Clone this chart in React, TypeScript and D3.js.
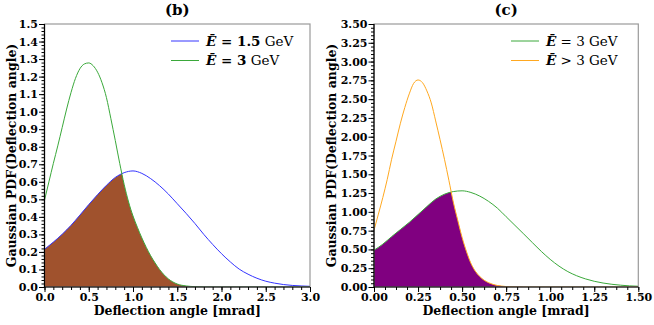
import React, { useRef, useEffect } from 'react';
import * as d3 from 'd3';

// ---- panel (b) ----
const angleB15 = [0.0, 0.1, 0.2, 0.3, 0.4, 0.5, 0.6, 0.7, 0.8, 0.9, 1.0, 1.1, 1.2, 1.3, 1.4, 1.5,
  1.6, 1.7, 1.8, 1.9, 2.0, 2.1, 2.2, 2.3, 2.4, 2.5, 2.6, 2.7, 2.8, 2.9, 3.0];
const pdfB15 = [0.215, 0.256, 0.301, 0.352, 0.41, 0.47, 0.527, 0.58, 0.625, 0.652, 0.662, 0.648,
  0.618, 0.578, 0.53, 0.475, 0.42, 0.362, 0.30, 0.243, 0.19, 0.143, 0.102, 0.073, 0.05, 0.033,
  0.022, 0.014, 0.009, 0.006, 0.004];

const angleB3 = [0.0, 0.05, 0.1, 0.15, 0.2, 0.25, 0.3, 0.35, 0.4, 0.45, 0.5, 0.55, 0.6, 0.65, 0.7,
  0.75, 0.8, 0.85, 0.9, 0.95, 1.0, 1.05, 1.1, 1.15, 1.2, 1.25, 1.3, 1.35, 1.4, 1.45, 1.5,
  1.6, 1.7, 1.8, 2.0, 3.0];
const pdfB3 = [0.495, 0.60, 0.705, 0.805, 0.91, 1.015, 1.11, 1.19, 1.245, 1.272, 1.278, 1.262,
  1.225, 1.165, 1.08, 0.96, 0.835, 0.705, 0.585, 0.485, 0.405, 0.34, 0.28, 0.226, 0.178, 0.137,
  0.1, 0.07, 0.046, 0.029, 0.017, 0.006, 0.002, 0.0005, 0, 0];

const xTicksB = [0, 0.5, 1.0, 1.5, 2.0, 2.5, 3.0];
const yTicksB = [0, 0.1, 0.2, 0.3, 0.4, 0.5, 0.6, 0.7, 0.8, 0.9, 1.0, 1.1, 1.2, 1.3, 1.4, 1.5];

// ---- panel (c) ----
const angleC3 = [0.0, 0.05, 0.1, 0.15, 0.2, 0.25, 0.3, 0.35, 0.4, 0.45, 0.5, 0.55, 0.6, 0.65, 0.7,
  0.75, 0.8, 0.85, 0.9, 0.95, 1.0, 1.05, 1.1, 1.15, 1.2, 1.25, 1.3, 1.35, 1.4, 1.45, 1.5];
const pdfC3 = [0.49, 0.57, 0.67, 0.765, 0.86, 0.964, 1.07, 1.17, 1.235, 1.27, 1.28, 1.258, 1.21,
  1.14, 1.05, 0.935, 0.82, 0.705, 0.588, 0.473, 0.368, 0.278, 0.205, 0.15, 0.108, 0.076, 0.053,
  0.036, 0.024, 0.015, 0.01];

const angleCgt3 = [0.0, 0.025, 0.05, 0.075, 0.1, 0.125, 0.15, 0.175, 0.2, 0.225, 0.25, 0.275, 0.3,
  0.325, 0.35, 0.375, 0.4, 0.425, 0.45, 0.475, 0.5, 0.525, 0.55, 0.575, 0.6, 0.625, 0.65, 0.675,
  0.7, 0.725, 0.75, 0.8, 0.85, 0.9, 1.5];
const pdfCgt3 = [0.755, 0.97, 1.19, 1.43, 1.70, 1.94, 2.18, 2.39, 2.57, 2.71, 2.755, 2.72, 2.61,
  2.45, 2.21, 1.96, 1.70, 1.42, 1.13, 0.89, 0.66, 0.47, 0.315, 0.21, 0.14, 0.09, 0.058, 0.035,
  0.02, 0.012, 0.006, 0.002, 0.0006, 0, 0];

const xTicksC = [0, 0.25, 0.5, 0.75, 1.0, 1.25, 1.5];
const yTicksC = [0, 0.25, 0.5, 0.75, 1.0, 1.25, 1.5, 1.75, 2.0, 2.25, 2.5, 2.75, 3.0, 3.25, 3.5];

const SERIF = '"DejaVu Serif", serif';

const panels = [
  {
    id: 'b', title: '(b)',
    left: 44.5, right: 310, top: 24, bottom: 287, labelX: 12,
    xMax: 3.0, yMax: 1.5, xTicks: xTicksB, yTicks: yTicksB, xMinor: 0.1, yMinor: 0.02,
    xFmt: '.1f', yFmt: '.1f', fill: '#a0522d', legendX: 171,
    curves: [
      { x: angleB15, y: pdfB15, color: '#3434ff', label: '1.5', op: '=' },
      { x: angleB3, y: pdfB3, color: '#3aa83a', label: '3', op: '=' },
    ],
  },
  {
    id: 'c', title: '(c)',
    left: 374, right: 638.3, top: 24, bottom: 287, labelX: 332,
    xMax: 1.5, yMax: 3.5, xTicks: xTicksC, yTicks: yTicksC, xMinor: 0.0625, yMinor: 0.05,
    xFmt: '.2f', yFmt: '.2f', fill: '#800080', legendX: 511,
    curves: [
      { x: angleC3, y: pdfC3, color: '#3aa83a', label: '3', op: '=' },
      { x: angleCgt3, y: pdfCgt3, color: '#ffa820', label: '3', op: '>' },
    ],
  },
];

const drawPanel = (svg, p) => {
  const x = d3.scaleLinear().domain([0, p.xMax]).range([p.left, p.right]);
  const y = d3.scaleLinear().domain([0, p.yMax]).range([p.bottom, p.top]);
  const pts = c => c.x.map((v, k) => [v, c.y[k]]);

  const line = d3.line().x(d => x(d[0])).y(d => y(d[1])).curve(d3.curveMonotoneX);
  const area = d3.area().x(d => x(d[0])).y0(y(0)).y1(d => y(d[1])).curve(d3.curveMonotoneX);

  const defs = svg.append('defs');
  defs.append('clipPath').attr('id', `under-${p.id}`)
    .append('path').attr('d', area(pts(p.curves[1])));
  defs.append('clipPath').attr('id', `plot-${p.id}`)
    .append('rect')
    .attr('x', p.left).attr('y', p.top)
    .attr('width', p.right - p.left).attr('height', p.bottom - p.top);

  const plot = svg.append('g').attr('clip-path', `url(#plot-${p.id})`);

  // region under both curves
  plot.append('path')
    .attr('d', area(pts(p.curves[0])))
    .attr('fill', p.fill)
    .attr('clip-path', `url(#under-${p.id})`);

  p.curves.forEach(c => {
    plot.append('path')
      .attr('d', line(pts(c)))
      .attr('fill', 'none')
      .attr('stroke', c.color)
      .attr('stroke-width', 1);
  });

  // frame: grey top/right, black axes
  svg.append('rect')
    .attr('x', p.left).attr('y', p.top)
    .attr('width', p.right - p.left).attr('height', p.bottom - p.top)
    .attr('fill', 'none').attr('stroke', '#9a9a9a').attr('stroke-width', 1.2);
  svg.append('path')
    .attr('d', `M${p.left},${p.top}V${p.bottom}H${p.right}`)
    .attr('fill', 'none').attr('stroke', '#000').attr('stroke-width', 1.2);

  const styleAxis = g => {
    g.select('.domain').remove();
    g.selectAll('line').attr('stroke', '#000').attr('stroke-width', 1);
    g.attr('font-family', SERIF).attr('font-size', 11).attr('font-weight', 'bold');
    g.selectAll('text').attr('fill', '#000');
  };

  const xMinorTicks = d3.range(0, p.xMax + 1e-9, p.xMinor);
  const yMinorTicks = d3.range(0, p.yMax + 1e-9, p.yMinor);

  svg.append('g').attr('transform', `translate(0,${p.bottom})`)
    .call(d3.axisBottom(x).tickValues(xMinorTicks).tickSize(3).tickFormat(() => ''))
    .call(styleAxis);
  svg.append('g').attr('transform', `translate(0,${p.bottom})`)
    .call(d3.axisBottom(x).tickValues(p.xTicks).tickSize(5).tickPadding(1).tickFormat(d3.format(p.xFmt)))
    .call(styleAxis);
  svg.append('g').attr('transform', `translate(${p.left},0)`)
    .call(d3.axisLeft(y).tickValues(yMinorTicks).tickSize(3).tickFormat(() => ''))
    .call(styleAxis);
  svg.append('g').attr('transform', `translate(${p.left},0)`)
    .call(d3.axisLeft(y).tickValues(p.yTicks).tickSize(5.5).tickPadding(1).tickFormat(d3.format(p.yFmt)))
    .call(styleAxis);

  const cx = (p.left + p.right) / 2;
  const cy = (p.top + p.bottom) / 2;

  svg.append('text')
    .attr('x', cx).attr('y', 14.5)
    .attr('text-anchor', 'middle')
    .attr('font-family', SERIF).attr('font-size', 15).attr('font-weight', 'bold')
    .text(p.title);

  svg.append('text')
    .attr('x', cx).attr('y', 315)
    .attr('text-anchor', 'middle')
    .attr('font-family', SERIF).attr('font-size', 12.5).attr('font-weight', 'bold')
    .text('Deflection angle [mrad]');

  svg.append('text')
    .attr('transform', `translate(${p.labelX},${cy}) rotate(-90)`)
    .attr('text-anchor', 'middle')
    .attr('dy', '0.35em')
    .attr('font-family', SERIF).attr('font-size', 12.5).attr('font-weight', 'bold')
    .text('Gaussian PDF(Deflection angle)');

  // legend
  p.curves.forEach((c, k) => {
    const ly = 41 + k * 19.5;
    svg.append('line')
      .attr('x1', p.legendX).attr('x2', p.legendX + 28)
      .attr('y1', ly).attr('y2', ly)
      .attr('stroke', c.color).attr('stroke-width', 1);
    const t = svg.append('text')
      .attr('x', p.legendX + 35).attr('y', ly + 4.5)
      .attr('font-family', SERIF).attr('font-size', 13.5);
    t.append('tspan').attr('font-style', 'italic').attr('font-weight', 'bold').text('\u0112');
    t.append('tspan').attr('font-weight', p.id === 'b' ? 'bold' : 'normal').text(` ${c.op} ${c.label}`);
    t.append('tspan').text(' GeV');
  });
};

const App = () => {
  const svgRef = useRef(null);

  useEffect(() => {
    const svg = d3.select(svgRef.current);
    svg.selectAll('*').remove();
    panels.forEach(p => drawPanel(svg, p));
  }, []);

  return (
    <svg
      ref={svgRef}
      width={654}
      height={325}
      style={{ position: 'absolute', left: 0, top: 0, background: '#fff' }}
    />
  );
};

export default App;
